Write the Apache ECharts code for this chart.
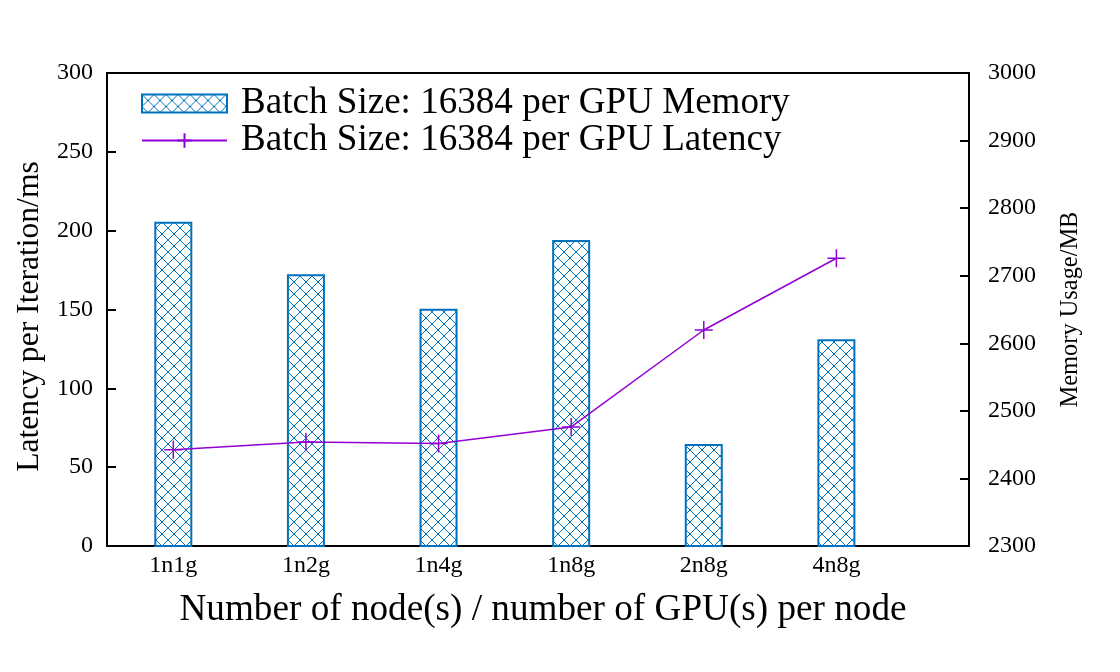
<!DOCTYPE html>
<html>
<head>
<meta charset="utf-8">
<script src="https://cdn.jsdelivr.net/npm/echarts@6/dist/echarts.min.js"></script>
<style>html,body{margin:0;padding:0;background:#fff}#c{width:1120px;height:672px}</style>
</head>
<body>
<div id="c"></div>
<script>
const categories = ['1n1g', '1n2g', '1n4g', '1n8g', '2n8g', '4n8g'];
const memoryMB = [2780, 2702, 2651, 2753, 2451, 2606];
const latencyMs = [61, 66, 65, 75.5, 137, 182.5];
const leftTicks = [0, 300, 50];
const rightTicks = [2300, 3000, 100];

const FONT = 'Liberation Serif';
const BLUE = '#0072bd';
const PURPLE = '#9400d3';

const pc = document.createElement('canvas');
pc.width = 12; pc.height = 12;
const g = pc.getContext('2d');
g.strokeStyle = BLUE; g.lineWidth = 1;
g.beginPath();
g.moveTo(0, 0); g.lineTo(12, 12);
g.moveTo(12, 0); g.lineTo(0, 12);
g.stroke();

const chart = echarts.init(document.getElementById('c'), null, {renderer: 'canvas'});
chart.setOption({
  animation: false,
  backgroundColor: '#fff',
  grid: {left: 107, right: 151, top: 73, bottom: 126, show: true, borderColor: '#000', borderWidth: 2, containLabel: false},
  legend: {
    orient: 'vertical', left: 136, top: 80,
    itemWidth: 85, itemHeight: 18, itemGap: 0,
    textStyle: {fontFamily: FONT, fontSize: 37.1, color: '#000', lineHeight: 37, padding: [0, 0, 0, 9]},
    data: [
      {name: 'Batch Size: 16384 per GPU Memory', icon: 'rect'},
      {name: 'Batch Size: 16384 per GPU Latency'}
    ]
  },
  xAxis: {
    type: 'value', min: -0.5, max: 6,
    name: 'Number of node(s) / number of GPU(s) per node',
    nameLocation: 'middle', nameGap: 46,
    nameTextStyle: {fontFamily: FONT, fontSize: 37.2, color: '#000', padding: [0, 0, 0, 10]},
    axisLine: {show: true, onZero: false, lineStyle: {color: '#000', width: 2}},
    axisTick: {show: false},
    splitLine: {show: false},
    axisLabel: {
      customValues: categories.map((c, i) => i),
      formatter: v => categories[Math.round(v)] || '',
      fontFamily: FONT, fontSize: 24, color: '#000', margin: 8
    }
  },
  yAxis: [
    {
      type: 'value', min: leftTicks[0], max: leftTicks[1], interval: leftTicks[2],
      name: 'Latency per Iteration/ms', nameLocation: 'middle', nameGap: 61, nameMoveOverlap: false,
      nameTextStyle: {fontFamily: FONT, fontSize: 31.6, color: '#000', padding: [0, 14, 0, 0]},
      axisLine: {show: true, onZero: false, lineStyle: {color: '#000', width: 2}},
      axisTick: {show: true, inside: true, length: 9, lineStyle: {color: '#000', width: 2}},
      splitLine: {show: false},
      axisLabel: {fontFamily: FONT, fontSize: 24, color: '#000', margin: 14, formatter: v => String(v)}
    },
    {
      type: 'value', min: rightTicks[0], max: rightTicks[1], interval: rightTicks[2],
      position: 'right',
      name: 'Memory Usage/MB', nameLocation: 'middle', nameGap: 90,
      nameTextStyle: {fontFamily: FONT, fontSize: 24.4, color: '#000'},
      axisLine: {show: true, onZero: false, lineStyle: {color: '#000', width: 2}},
      axisTick: {show: true, inside: true, length: 9, lineStyle: {color: '#000', width: 2}},
      splitLine: {show: false},
      axisLabel: {fontFamily: FONT, fontSize: 24, color: '#000', margin: 19, formatter: v => String(v)}
    }
  ],
  series: [
    {
      name: 'Batch Size: 16384 per GPU Memory',
      type: 'bar', yAxisIndex: 1, barWidth: 38,
      data: memoryMB.map((v, i) => [i, v]),
      itemStyle: {color: {image: pc, repeat: 'repeat'}, borderColor: BLUE, borderWidth: 2}
    },
    {
      name: 'Batch Size: 16384 per GPU Latency',
      type: 'line', yAxisIndex: 0,
      data: latencyMs.map((v, i) => [i, v]),
      symbol: 'path://M5,0L5,10M0,5L10,5', symbolSize: 18, showSymbol: true,
      lineStyle: {color: PURPLE, width: 1.5},
      itemStyle: {color: 'rgba(0,0,0,0)', borderColor: PURPLE, borderWidth: 1.5}
    }
  ]
});
</script>
</body>
</html>
